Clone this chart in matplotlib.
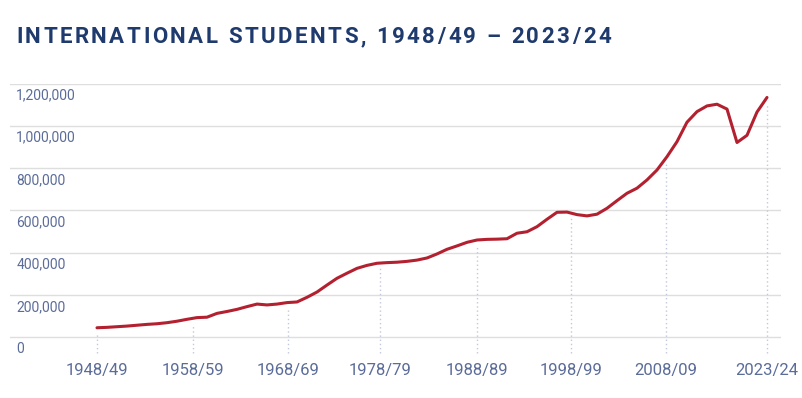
import matplotlib
matplotlib.use("Agg")
import matplotlib.pyplot as plt
from matplotlib.font_manager import FontProperties
import numpy as np

# ---- data (thousands of students) ----
students_k = [45, 47, 50, 53, 57, 61, 64, 69, 76, 85,
              93, 95, 113, 122, 132, 145, 157, 153, 157, 164,
              167, 189, 214, 247, 279, 303, 326, 340, 350, 353,
              355, 359, 365, 375, 394, 416, 432, 449, 460, 463,
              464, 466, 492, 499, 523, 558, 591, 592, 580, 574,
              582, 610, 646, 681, 705, 744, 791, 854, 925, 1017,
              1067, 1094, 1102, 1079, 921, 955, 1065, 1134]
tick_labels = ["1948/49", "1958/59", "1968/69", "1978/79",
               "1988/89", "1998/99", "2008/09", "2023/24"]
tick_positions = [0, 9.6, 19.1, 28.3, 38.0, 47.4, 56.9, 67]
y_ticks = [0, 200000, 400000, 600000, 800000, 1000000, 1200000]
title = "INTERNATIONAL STUDENTS, 1948/49 \u2013 2023/24"

values = np.array(students_k) * 1000
x = np.arange(len(values))

NAVY = "#1f3a6d"
RED = "#b3202f"
LABEL = "#5b6c99"
GRID = "#dedede"
DOT = "#c3c8da"

W, H = 803, 398
fig = plt.figure(figsize=(W / 100, H / 100), dpi=100)
fig.patch.set_facecolor("white")

ax_left_px, ax_right_px = 10, 781
ax_top_px, ax_bot_px = 83.5, 354.2
ax = fig.add_axes([ax_left_px / W, 1 - ax_bot_px / H,
                   (ax_right_px - ax_left_px) / W,
                   (ax_bot_px - ax_top_px) / H])
ax.set_xlim(-8.7, 68.4)
ax.set_ylim(-80000, 1200000)
for s in ax.spines.values():
    s.set_visible(False)

for v in y_ticks:
    ax.axhline(v, color=GRID, lw=1.0, zorder=1)
    ax.annotate(f"{v:,}", xy=(0.008, v), xycoords=("axes fraction", "data"),
                xytext=(0, -3.5), textcoords="offset points",
                ha="left", va="top", fontsize=10, color=LABEL,
                family=["Roboto", "DejaVu Sans"])
ax.set_yticks([])

# dotted guide lines from below the axis up to the curve
tops = np.interp(tick_positions, x, values) - 25000
ax.vlines(tick_positions, -74000, tops, colors=DOT, lw=1.0,
          linestyles=(0, (1, 2)), zorder=1)

ax.plot(x, values, color=RED, lw=2.2, solid_joinstyle="round",
        solid_capstyle="round", zorder=3)

ax.set_xticks(tick_positions)
ax.set_xticklabels(tick_labels, fontsize=12, color=LABEL,
                   family=["Roboto", "DejaVu Sans"])
ax.tick_params(axis="x", length=0, pad=6)

# letter-spaced title
fp = FontProperties(family=["Roboto", "DejaVu Sans"], weight="bold", size=16)
renderer = fig.canvas.get_renderer()


def text_w(s):
    w, _, _ = renderer.get_text_width_height_descent(s, fp, ismath=False)
    return w


base = text_w("I")
full = text_w(title + "I") - base
x0_px, x1_px = 16, 611
spacing = (x1_px - x0_px - full) / (len(title) - 1)
for i, ch in enumerate(title):
    if ch == " ":
        continue
    px = x0_px + (text_w(title[:i] + "I") - base if i else 0) + i * spacing
    fig.text(px / W, 1 - 37 / H, ch, ha="left", va="center",
             fontproperties=fp, color=NAVY)

fig.savefig("out.png", dpi=100, facecolor="white")
